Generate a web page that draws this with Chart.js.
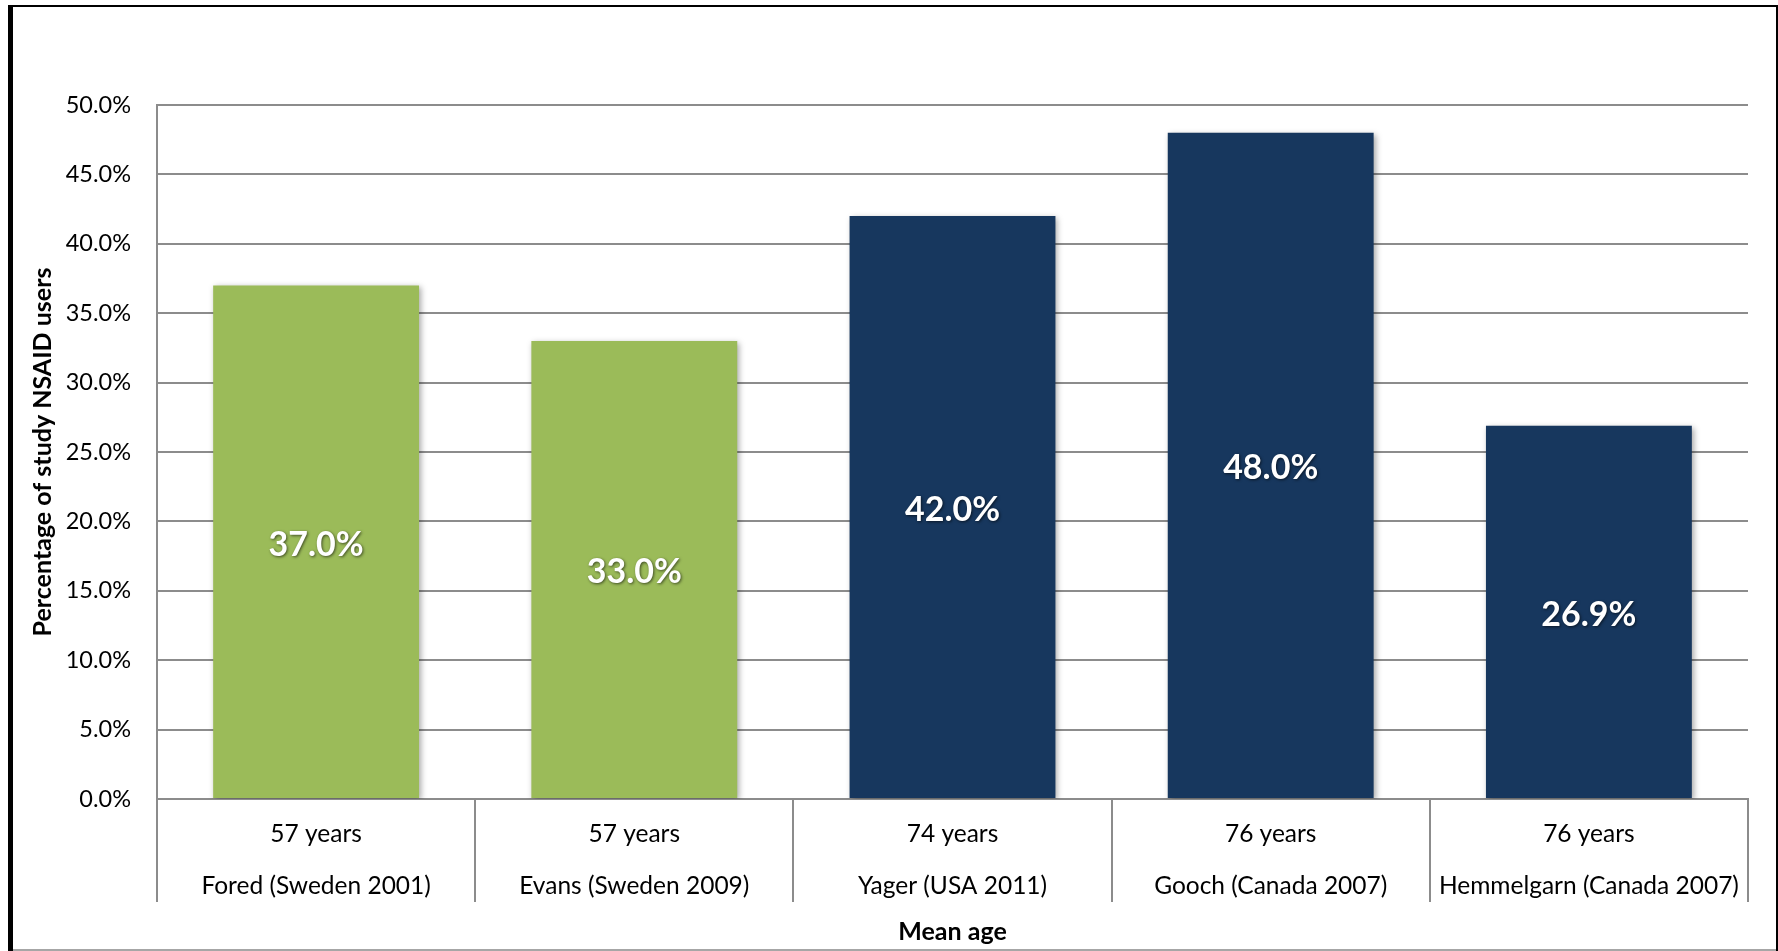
<!DOCTYPE html>
<html lang="en">
<head>
    <meta charset="UTF-8">
    <title>NSAID users by study</title>
    <script src="https://cdn.jsdelivr.net/npm/chart.js"></script>
    <style>
        html, body { margin: 0; padding: 0; background: #fff; }
        #wrap { width: 1778px; height: 951px; position: relative; }
    </style>
</head>
<body>
    <div id="wrap"><canvas id="nsaid-chart" width="1778" height="951"></canvas></div>

    <script>
        const ages = ['57 years', '57 years', '74 years', '76 years', '76 years'];
        const studies = ['Fored (Sweden 2001)', 'Evans (Sweden 2009)', 'Yager (USA 2011)', 'Gooch (Canada 2007)', 'Hemmelgarn (Canada 2007)'];
        const nsaidPct = [37.0, 33.0, 42.0, 48.0, 26.9];
        const barColors = ['#9BBB59', '#9BBB59', '#17375E', '#17375E', '#17375E'];
        const yTicks = [0, 5, 10, 15, 20, 25, 30, 35, 40, 45, 50];

        const FONT = "Lato, 'Open Sans', sans-serif";

        // outer frame like the exported picture
        const framePlugin = {
            id: 'frame',
            beforeDraw(chart) {
                const c = chart.ctx;
                c.save();
                c.fillStyle = '#fff';
                c.fillRect(0, 0, chart.width, chart.height);
                c.fillStyle = '#000';
                c.fillRect(8, 5, 1770, 2);
                c.fillRect(8, 5, 5, 946);
                c.fillRect(1776, 5, 2, 946);
                c.fillStyle = '#a6a6a6';
                c.fillRect(13, 949, 1763, 2);
                c.restore();
            }
        };

        // soft shadow behind bars
        const shadowPlugin = {
            id: 'barShadow',
            beforeDatasetsDraw(chart) {
                const c = chart.ctx;
                c.save();
                c.shadowColor = 'rgba(0,0,0,0.35)';
                c.shadowBlur = 6;
                c.shadowOffsetX = 2;
                c.shadowOffsetY = 2;
            },
            afterDatasetsDraw(chart) {
                chart.ctx.restore();
            }
        };

        // white value labels in the middle of each bar
        const valueLabels = {
            id: 'valueLabels',
            afterDatasetsDraw(chart) {
                const c = chart.ctx;
                const meta = chart.getDatasetMeta(0);
                c.save();
                c.font = 'bold 34px ' + FONT;
                c.fillStyle = '#fff';
                c.textAlign = 'center';
                c.textBaseline = 'middle';
                c.shadowColor = 'rgba(0,0,0,0.6)';
                c.shadowBlur = 3;
                c.shadowOffsetX = 1;
                c.shadowOffsetY = 1;
                meta.data.forEach((bar, i) => {
                    c.fillText(nsaidPct[i].toFixed(1) + '%', bar.x, (bar.y + bar.base) / 2 + 3);
                });
                c.restore();
            }
        };

        const labels = ages.map((a, i) => [a, studies[i]]);

        new Chart(document.getElementById('nsaid-chart'), {
            type: 'bar',
            data: {
                labels: labels,
                datasets: [{
                    data: nsaidPct,
                    backgroundColor: barColors,
                    barPercentage: 0.647,
                    categoryPercentage: 1.0
                }]
            },
            options: {
                responsive: false,
                animation: false,
                events: [],
                layout: { padding: { top: 105, right: 30, bottom: 0, left: 0 } },
                plugins: {
                    legend: { display: false },
                    tooltip: { enabled: false }
                },
                scales: {
                    x: {
                        grid: {
                            offset: true,
                            drawOnChartArea: false,
                            drawTicks: true,
                            tickLength: 103,
                            color: '#8c8c8c',
                            lineWidth: 2
                        },
                        border: { display: true, color: '#8c8c8c', width: 2 },
                        ticks: {
                            padding: -94,
                            color: '#000',
                            maxRotation: 0,
                            autoSkip: false,
                            font: { family: FONT, size: 24.5, lineHeight: 52 / 24.5 }
                        },
                        title: {
                            display: true,
                            text: 'Mean age',
                            color: '#000',
                            font: { family: FONT, size: 25, weight: 'bold', lineHeight: 1.2 },
                            padding: { top: 0, bottom: 4 }
                        },
                        afterFit(scale) { scale.height = 152; }
                    },
                    y: {
                        min: 0,
                        max: 50,
                        afterBuildTicks(scale) {
                            scale.ticks = yTicks.map(v => ({ value: v }));
                        },
                        grid: { color: '#8c8c8c', lineWidth: 2, drawTicks: false },
                        border: { display: true, color: '#8c8c8c', width: 2 },
                        ticks: {
                            padding: 26,
                            color: '#000',
                            font: { family: FONT, size: 23.5 },
                            callback: v => v.toFixed(1) + '%'
                        },
                        title: {
                            display: true,
                            text: 'Percentage of study NSAID users',
                            color: '#000',
                            font: { family: FONT, size: 25, weight: 'bold', lineHeight: 1.2 },
                            padding: { top: 28, bottom: 0 }
                        },
                        afterFit(scale) { scale.width = 157; }
                    }
                }
            },
            plugins: [framePlugin, shadowPlugin, valueLabels]
        });
    </script>
</body>
</html>
